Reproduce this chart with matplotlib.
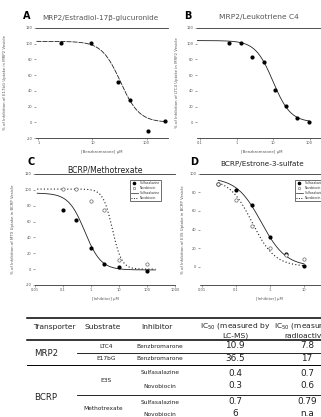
import matplotlib
matplotlib.use('Agg')
import numpy as np
import matplotlib.pyplot as plt
from matplotlib.lines import Line2D

# ---------------- data ----------------
a_conc = [2.6, 9.4, 30, 50, 107, 220]
a_inhib = [101, 101, 51, 28, -11, 2]
a_fit = (103, 0, 33, 2.5)          # top, bottom, IC50, hill

b_conc = [0.63, 1.3, 2.6, 5.5, 11, 22, 45, 95]
b_inhib = [101, 101, 83, 77, 41, 21, 6, 0]
b_fit = (104, 0, 10, 1.8)

c_conc = [0.1, 0.3, 1, 3, 10, 100]
c_sulfa = [75, 62, 27, 7, 3, -2]
c_novo = [101, 101, 86, 74, 12, 6]
c_sulfa_fit = (96, -1, 0.6, 1.5)
c_novo_fit = (101, 0, 5.8, 2.6)

d_conc = [0.03, 0.1, 0.3, 1, 3, 10]
d_sulfa = [89, 83, 66, 32, 13, 1]
d_novo = [89, 72, 44, 20, 12, 8]
d_sulfa_fit = (96, 0, 0.55, 1.2)
d_novo_fit = (95, 0, 0.3, 1.3)

legend_labels = ["Sulfasalazine", "Novobiocin", "Sulfasalazine", "Novobiocin"]

tbl_header = ["Transporter", "Substrate", "Inhibitor",
              "IC$_{50}$ (measured by\nLC-MS)", "IC$_{50}$ (measured by\nradioactivity)"]
tbl_transporter = ["MRP2", "BCRP"]
tbl_substrate = ["LTC4", "E17bG", "E3S", "Methotrexate"]
tbl_inhibitor = ["Benzbromarone", "Benzbromarone", "Sulfasalazine", "Novobiocin",
                 "Sulfasalazine", "Novobiocin"]
tbl_lcms = ["10.9", "36.5", "0.4", "0.3", "0.7", "6"]
tbl_radio = ["7.8", "17", "0.7", "0.6", "0.79", "n.a"]

# ---------------- figure ----------------
W, H = 321, 417
fig = plt.figure(figsize=(W / 100, H / 100), dpi=100)
plt.rcParams['font.family'] = ['DejaVu Sans']


def axes_px(x0, x1, y0, y1):
    return fig.add_axes([x0 / W, 1 - y1 / H, (x1 - x0) / W, (y1 - y0) / H])


def hill(x, p):
    top, bottom, ic50, h = p
    return bottom + (top - bottom) / (1 + (x / ic50) ** h)


def style(ax, xlim, ylim, xticks, xlabels, yticks):
    ax.set_xscale('log')
    ax.set_xlim(*xlim)
    ax.set_ylim(*ylim)
    ax.set_xticks(xticks)
    ax.set_xticklabels(xlabels)
    ax.minorticks_off()
    ax.set_yticks(yticks)
    ax.set_yticklabels([str(v) for v in yticks])
    ax.spines['left'].set_visible(False)
    ax.spines['right'].set_visible(False)
    for s in ('top', 'bottom'):
        ax.spines[s].set_linewidth(0.6)
        ax.spines[s].set_color('#333333')
    ax.tick_params(axis='both', labelsize=2.6, colors='#555555', length=1.5,
                   width=0.4, pad=1)
    ax.patch.set_alpha(0)


def labels(ax, xl, yl, ylx):
    ax.set_xlabel(xl, fontsize=2.8, color='#555555', labelpad=3)
    ax.set_ylabel(yl, fontsize=2.8, color='#555555')
    ax.yaxis.set_label_coords(ylx, 0.5)


# Panel A
axA = axes_px(36, 168, 28, 138)
style(axA, (0.9, 250), (-20, 120), [1, 10, 100], ['1', '10', '100'],
      list(range(-20, 121, 20)))
xa = np.logspace(np.log10(0.92), np.log10(240), 200)
axA.plot(xa, hill(xa, a_fit), color='#222222', lw=0.6, ls=(0, (6, 1.2)))
axA.plot(a_conc, a_inhib, 'o', color='black', ms=2.0)
labels(axA, '[Benzbromarone] μM', '% of Inhibition of E17bG Uptake in MRP2 Vesicle', -0.22)

# Panel B
axB = axes_px(197, 327, 28, 138)
style(axB, (0.0828, 301), (-20, 120), [0.1, 1, 10, 100], ['0.1', '1', '10', '100'],
      list(range(0, 121, 20)))
xb = np.logspace(np.log10(0.085), np.log10(95), 200)
axB.plot(xb, hill(xb, b_fit), color='#222222', lw=0.6)
axB.plot(b_conc, b_inhib, 'o', color='black', ms=2.0)
labels(axB, '[Benzbromarone] μM', '% of Inhibition of LTC4 Uptake in MRP2 Vesicle', -0.14)

# Panel C
axC = axes_px(35, 175, 174, 285)
style(axC, (0.01, 1000), (-20, 120), [0.01, 0.1, 1, 10, 100, 1000],
      ['0.01', '0.1', '1', '10', '100', '1000'], list(range(-20, 121, 20)))
xc = np.logspace(np.log10(0.012), np.log10(200), 200)
axC.plot(xc, hill(xc, c_sulfa_fit), color='#222222', lw=0.6)
axC.plot(xc, hill(xc, c_novo_fit), color='#222222', lw=0.8, ls=(0, (1, 2)))
axC.plot(c_conc, c_sulfa, 'o', color='black', ms=2.0)
axC.plot(c_conc, c_novo, 'o', mfc='white', mec='#666666', mew=0.5, ms=2.4)
labels(axC, '[Inhibitor] μM', '% of Inhibition of MTX Uptake in BCRP Vesicle', -0.14)

# Panel D
axD = axes_px(200, 338, 174, 285)
style(axD, (0.0087, 100), (-20, 100), [0.01, 0.1, 1, 10],
      ['0.01', '0.1', '1', '10'], list(range(0, 101, 20)))
xd = np.logspace(np.log10(0.03), np.log10(10), 200)
axD.plot(xd, hill(xd, d_sulfa_fit), color='#222222', lw=0.6)
axD.plot(xd, hill(xd, d_novo_fit), color='#222222', lw=0.8, ls=(0, (1, 2)))
axD.plot(d_conc, d_sulfa, 'o', color='black', ms=2.0)
axD.plot(d_conc, d_novo, 'o', mfc='white', mec='#666666', mew=0.5, ms=2.4)
labels(axD, '[Inhibitor] μM', '% of Inhibition of E3S Uptake in BCRP Vesicle', -0.11)

handles = [Line2D([], [], marker='o', ls='none', color='black', ms=1.6),
           Line2D([], [], marker='o', ls='none', mfc='white', mec='#666666', mew=0.4, ms=1.8),
           Line2D([], [], color='#222222', lw=0.5),
           Line2D([], [], color='#222222', lw=0.7, ls=(0, (1, 1.5)))]
for ax, (lx, ly) in ((axC, (128, 178)), (axD, (293, 178))):
    leg = fig.legend(handles, legend_labels, loc='upper left',
                     bbox_to_anchor=(lx / W, 1 - ly / H), fontsize=2.2,
                     frameon=True, fancybox=False, borderpad=0.5,
                     handlelength=2.2, labelspacing=0.3, handletextpad=0.5)
    leg.get_frame().set_edgecolor('black')
    leg.get_frame().set_linewidth(0.5)
    for t in leg.get_texts():
        t.set_color('#333333')

# overlay for panel letters, titles and table
ov = fig.add_axes([0, 0, 1, 1])
ov.set_xlim(0, W)
ov.set_ylim(H, 0)
ov.axis('off')
ov.patch.set_alpha(0)

for x, y, s in ((23, 16, 'A'), (184, 16, 'B'), (27, 162, 'C'), (190, 162, 'D')):
    ov.text(x, y, s, fontsize=7, fontweight='bold', ha='left', va='center', color='black')
ov.text(42, 18, 'MRP2/Estradiol-17β-glucuronide', fontsize=5.2, color='#555555',
        ha='left', va='center')
ov.text(259, 17, 'MRP2/Leukotriene C4', fontsize=5.4, color='#555555',
        ha='center', va='center')
ov.text(105, 170, 'BCRP/Methotrexate', fontsize=5.6, color='#222222',
        ha='center', va='center')
ov.text(262, 164, 'BCRP/Estrone-3-sulfate', fontsize=5.2, color='#222222',
        ha='center', va='center')

# table
tfont = dict(color='#222222', va='center', ha='center')
ov.plot([27, W], [318, 318], color='black', lw=1.1, clip_on=False)
ov.plot([27, W], [340, 340], color='black', lw=1.1, clip_on=False)
ov.plot([77, W], [352.5, 352.5], color='black', lw=0.6)
ov.plot([27, W], [365, 365], color='black', lw=0.7)
ov.plot([77, W], [395, 395], color='black', lw=0.6)

ov.text(54, 327, tbl_header[0], fontsize=5.4, **tfont)
ov.text(103, 327, tbl_header[1], fontsize=5.4, **tfont)
ov.text(157, 327, tbl_header[2], fontsize=5.4, **tfont)
ov.text(235, 330, tbl_header[3], fontsize=5.4, linespacing=1.2, **tfont)
ov.text(309, 330, tbl_header[4], fontsize=5.4, linespacing=1.2, **tfont)

ov.text(46, 353, tbl_transporter[0], fontsize=6.2, **tfont)
ov.text(46, 397, tbl_transporter[1], fontsize=6.2, **tfont)

ov.text(106, 346, tbl_substrate[0], fontsize=4.2, **tfont)
ov.text(106, 358.5, tbl_substrate[1], fontsize=4.2, **tfont)
ov.text(106, 380, tbl_substrate[2], fontsize=4.2, **tfont)
ov.text(103, 408, tbl_substrate[3], fontsize=4.2, **tfont)

row_y = [346, 358.5, 373, 386, 402, 414]
for y, inh, v1, v2 in zip(row_y, tbl_inhibitor, tbl_lcms, tbl_radio):
    ov.text(160, y, inh, fontsize=4.2, **tfont)
    ov.text(235, y, v1, fontsize=6.4, **tfont)
    ov.text(307, y, v2, fontsize=6.4, **tfont)

fig.savefig('out.png', dpi=100)
